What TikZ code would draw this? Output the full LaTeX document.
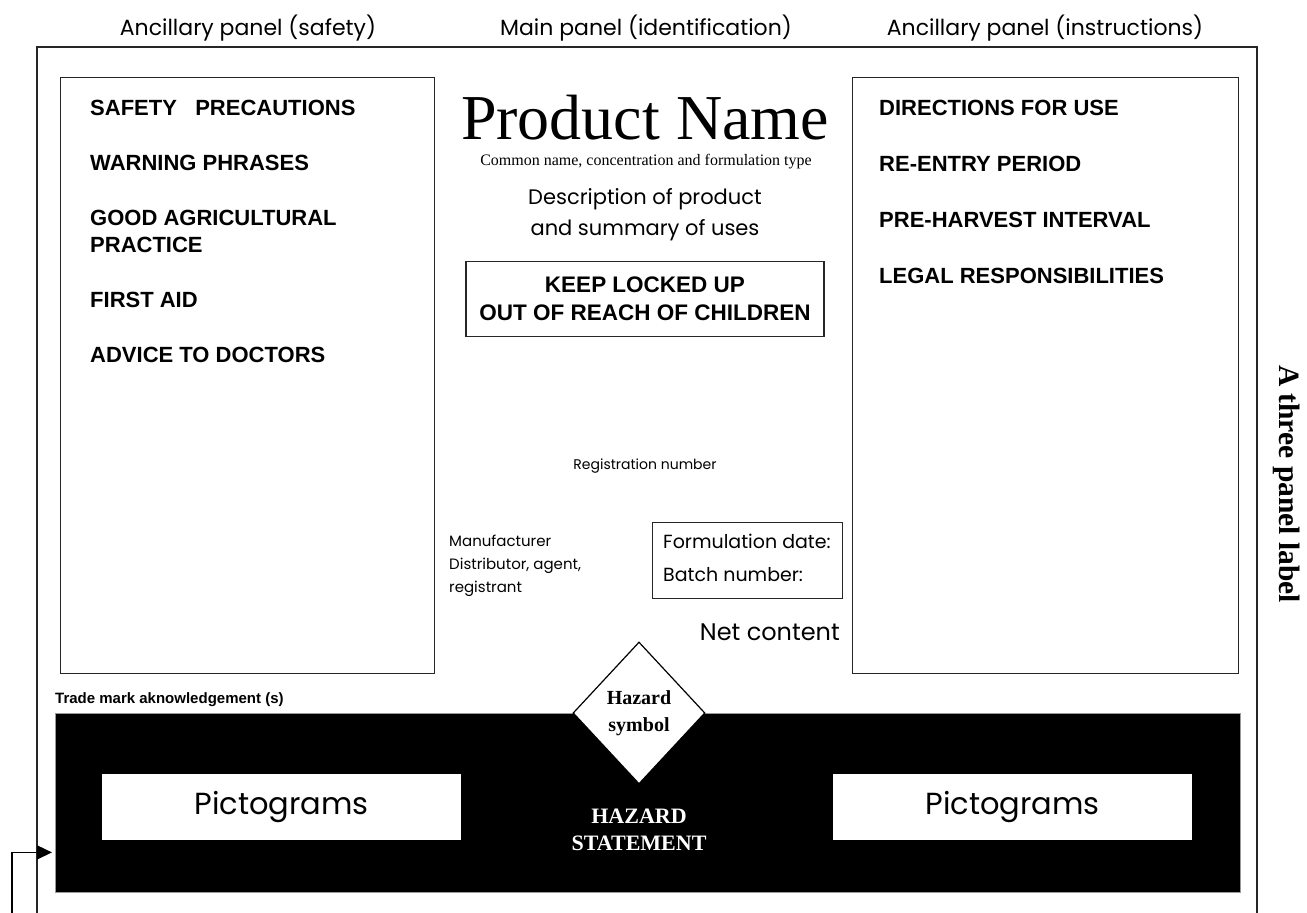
\documentclass[tikz,border=0pt]{standalone}
\usepackage{fontspec}
\setmainfont{Liberation Serif}
\setsansfont{Liberation Sans}
\newfontfamily\gothic{Poppins}
\usetikzlibrary{shapes.geometric, arrows.meta, positioning}

\tikzset{
    frameline/.style={draw=black!85, line width=1.8pt},
    panelbox/.style={draw=black!85, line width=1.4pt, anchor=north west, inner sep=0pt},
    toplabel/.style={font=\gothic\fontsize{22}{25}\selectfont},
    heading/.style={font=\sffamily\bfseries\fontsize{22}{25}\selectfont, anchor=west, inner sep=0pt},
    plain/.style={font=\gothic\fontsize{#1}{#1}\selectfont, inner sep=0pt},
    plain/.default=15,
    pictobox/.style={fill=white, minimum width=359pt, minimum height=66pt, anchor=north west, inner sep=0pt,
          font=\gothic\fontsize{30.5}{30}\selectfont},
}

\begin{document}
\begin{tikzpicture}[x=1pt, y=-1pt]
    \useasboundingbox (0,0) rectangle (1307,913);

    % Panel titles
    \node[toplabel] (safetytitle) at (248,28) {Ancillary panel (safety)};
    \node[toplabel] (maintitle) at (646,28) {Main panel (identification)};
    \node[toplabel] (instrtitle) at (1045,28) {Ancillary panel (instructions)};

    % Outer frame (open at the bottom)
    \draw[frameline] (37,913) -- (37,47) -- (1257,47) -- (1257,913);

    % Side panels
    \node[panelbox, minimum width=374pt, minimum height=596pt] (safety) at (60,77) {};
    \node[panelbox, minimum width=386pt, minimum height=596pt] (instr) at (852,77) {};

    % Safety items
    \node[heading] (precautions) at (90,108) {SAFETY\ \ \ PRECAUTIONS};
    \node[heading] (warning) at (90,163) {WARNING PHRASES};
    \node[heading, align=left, font=\sffamily\bfseries\fontsize{22}{27}\selectfont] (gap) at (90,231) {GOOD AGRICULTURAL\\PRACTICE};
    \node[heading] (firstaid) at (90,300) {FIRST AID};
    \node[heading] (doctors) at (90,355) {ADVICE TO DOCTORS};

    % Instruction items
    \node[heading] (directions) at (879,108) {DIRECTIONS FOR USE};
    \node[heading] (reentry) at (879,164) {RE-ENTRY PERIOD};
    \node[heading] (preharvest) at (879,220) {PRE-HARVEST INTERVAL};
    \node[heading] (legal) at (879,276) {LEGAL RESPONSIBILITIES};

    % Main panel
    \node[font=\fontsize{64}{64}\selectfont, inner sep=0pt] (product) at (645,118) {Product Name};
    \node[font=\fontsize{16}{16}\selectfont, inner sep=0pt] (common) at (646,162) {Common name, concentration and formulation type};
    \node[plain=21, align=center, font=\gothic\fontsize{21}{31}\selectfont] (description) at (645,215) {Description of product\\and summary of uses};
    \node[draw=black!85, line width=1.6pt, minimum width=358pt, minimum height=75pt,
          align=center, font=\sffamily\bfseries\fontsize{22.5}{28}\selectfont] (locked) at (645,299) {KEEP LOCKED UP\\OUT OF REACH OF CHILDREN};
    \node[plain=14] (registration) at (645,466) {Registration number};
    \node[plain, anchor=north west, align=left, font=\gothic\fontsize{15}{23}\selectfont] (maker) at (449,535) {Manufacturer\\Distributor, agent,\\registrant};
    \node[panelbox, minimum width=190pt, minimum height=76pt] (batchbox) at (652,522) {};
    \node[plain=19, anchor=west] (formdate) at (663,541) {Formulation date:};
    \node[plain=19, anchor=west] (batch) at (663,575) {Batch number:};
    \node[plain=24, anchor=east] (netcontent) at (840,632) {Net content};

    % Hazard band
    \node[font=\sffamily\bfseries\fontsize{15}{15}\selectfont, anchor=west, inner sep=0pt] (trademark) at (55,700) {Trade mark aknowledgement (s)};
    \node[fill=black, draw=black!40, minimum width=1185pt, minimum height=179pt, anchor=north west] (band) at (55,713) {};
    \node[pictobox] (pictoleft) at (102,774) {Pictograms};
    \node[pictobox] (pictoright) at (833,774) {Pictograms};
    \node[diamond, draw=black, fill=white, line width=1.2pt, minimum width=132pt, minimum height=142pt, inner sep=0pt,
          align=center, font=\bfseries\fontsize{20}{27}\selectfont] (symbol) at (639,713) {Hazard\\symbol};
    \node[text=white, align=center, font=\bfseries\fontsize{22}{27}\selectfont] (statement) at (639,830) {HAZARD\\STATEMENT};

    % Side title
    \node[rotate=-90, font=\bfseries\fontsize{29.5}{29.5}\selectfont] (sidetitle) at (1287,484) {A three panel label};

    % Pointer to the band
    \coordinate (pointer) at (12,913);
    \draw[line width=1.6pt, -{Triangle[length=15pt, width=14pt]}, shorten >=3pt] (pointer) |- ([yshift=40pt]band.south west);
\end{tikzpicture}
\end{document}
